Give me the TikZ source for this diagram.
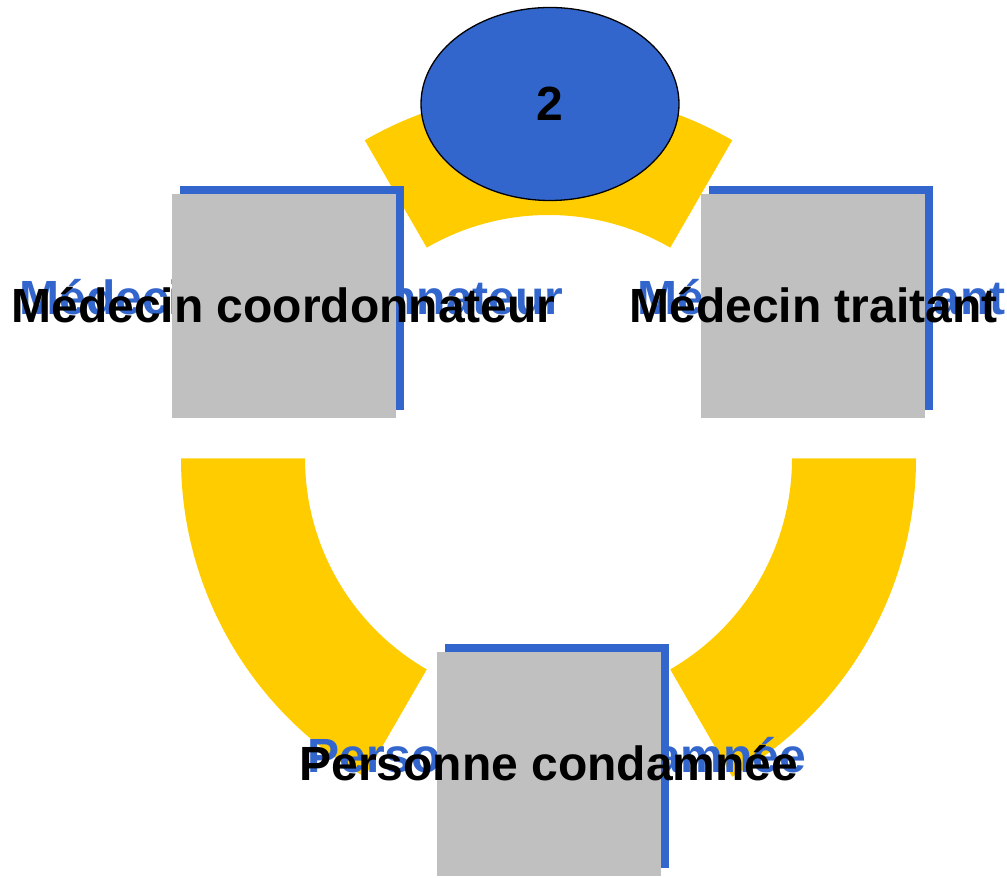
\documentclass[tikz,border=0pt]{standalone}
\usepackage{fontspec}
\setmainfont{Liberation Sans}
\usetikzlibrary{shapes.geometric,calc}
\definecolor{ringyellow}{HTML}{FFCC00}
\definecolor{nodeblue}{HTML}{3366CC}
\definecolor{boxgray}{HTML}{C0C0C0}
\begin{document}
\begin{tikzpicture}[x=1pt,y=1pt,
  segment/.style={fill=ringyellow,draw=none},
  shadowbox/.style={fill=nodeblue,draw=none,minimum width=224pt,minimum height=224pt,inner sep=0pt,outer sep=0pt},
  graybox/.style={fill=boxgray,draw=none,minimum width=224pt,minimum height=224pt,inner sep=0pt,outer sep=0pt},
  lbl/.style={font=\fontsize{48}{50}\selectfont\bfseries,inner sep=0pt,anchor=base},
  shadowlbl/.style={lbl,text=nodeblue},
  mainlbl/.style={lbl,text=black},
  hub/.style={ellipse,fill=nodeblue,draw=black,line width=1.3pt,minimum width=258pt,minimum height=193pt,inner sep=0pt,font=\fontsize{48}{50}\selectfont\bfseries}
]
\useasboundingbox (0,0) rectangle (1007,878);
\coordinate (c) at (548.5,419.5);
% ring segments
\fill[segment] ($(c)+(60:367.5)$) arc[start angle=60,end angle=120,radius=367.5] -- ($(c)+(120:243.5)$) arc[start angle=120,end angle=60,radius=243.5] -- cycle;
\fill[segment] ($(c)+(180:367.5)$) arc[start angle=180,end angle=240,radius=367.5] -- ($(c)+(240:243.5)$) arc[start angle=240,end angle=180,radius=243.5] -- cycle;
\fill[segment] ($(c)+(300:367.5)$) arc[start angle=300,end angle=360,radius=367.5] -- ($(c)+(360:243.5)$) arc[start angle=360,end angle=300,radius=243.5] -- cycle;
% shadow squares
\node[shadowbox] (s1) at (292,579.5) {};
\node[shadowbox] (s2) at (821,579.5) {};
\node[shadowbox] (s3) at (557,122) {};
% shadow labels
\node[shadowlbl] (t1s) at (291.5,563) {Médecin coordonnateur};
\node[shadowlbl] (t2s) at (821.5,563) {Médecin traitant};
\node[shadowlbl] (t3s) at (557,105) {Personne condamnée};
% gray squares
\node[graybox] (b1) at (284,571.5) {};
\node[graybox] (b2) at (813,571.5) {};
\node[graybox] (b3) at (549,114) {};
% labels
\node[mainlbl] (t1) at (283.5,555) {Médecin coordonnateur};
\node[mainlbl] (t2) at (813.5,555) {Médecin traitant};
\node[mainlbl] (t3) at (549,97) {Personne condamnée};
% hub
\node[hub] (h) at (550,774) {2};
\end{tikzpicture}
\end{document}
